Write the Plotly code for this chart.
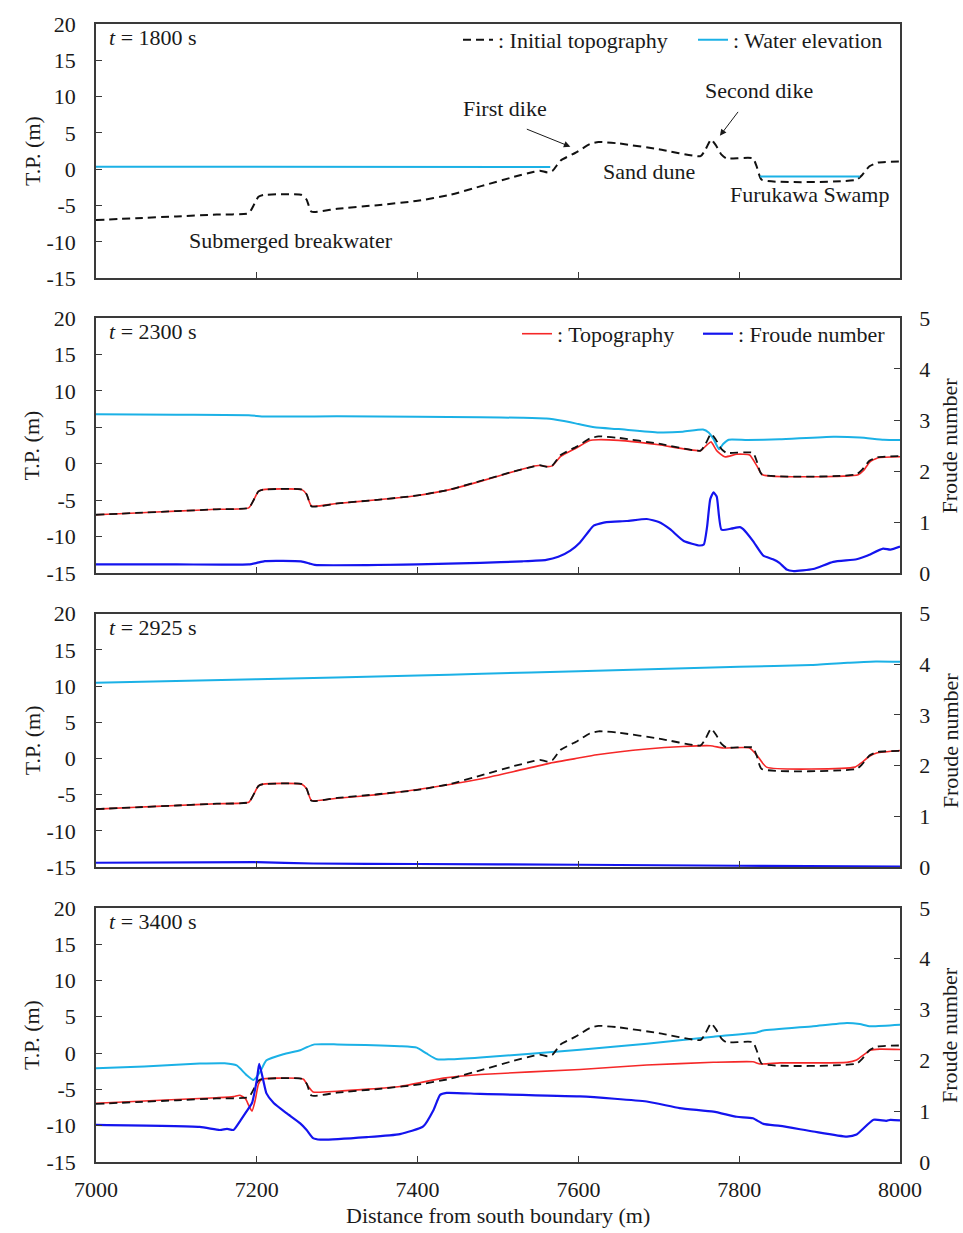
import plotly.graph_objects as go

# ---------------- data ----------------
x_init = [7000, 7050, 7100, 7150, 7190, 7196, 7202, 7208, 7256, 7262, 7268, 7300, 7350, 7400,
          7440, 7480, 7520, 7545, 7552, 7562, 7568, 7578, 7598, 7614, 7625, 7650, 7700, 7752,
          7758, 7765, 7771, 7778, 7784, 7817, 7822, 7828, 7946, 7953, 7962, 7972, 8000]
topo_init = [-7.0, -6.75, -6.5, -6.25, -6.05, -5.0, -3.8, -3.55, -3.55, -4.2, -5.85, -5.45, -4.95, -4.35,
             -3.55, -2.3, -1.05, -0.35, -0.2, -0.45, -0.2, 1.2, 2.35, 3.45, 3.75, 3.55, 2.75, 1.8,
             2.7, 4.1, 3.3, 2.0, 1.5, 1.5, 0.3, -1.45, -1.45, -0.8, 0.4, 0.9, 1.05]

# t = 1800 s : water elevation (sea side and Furukawa Swamp)
x_w1800 = [7000, 7200, 7400, 7565, None, 7826, 7950]
w1800 = [0.35, 0.32, 0.3, 0.3, None, -1.0, -1.0]

# t = 2300 s
x_w2300 = [7000, 7100, 7190, 7210, 7300, 7400, 7478, 7530, 7560, 7580, 7600, 7620, 7650, 7700,
           7730, 7755, 7762, 7768, 7775, 7780, 7787, 7810, 7850, 7917, 7950, 7980, 8000]
w2300 = [6.8, 6.72, 6.65, 6.48, 6.5, 6.45, 6.38, 6.3, 6.2, 5.9, 5.45, 5.0, 4.75, 4.3,
         4.4, 4.7, 4.3, 3.4, 2.0, 2.7, 3.3, 3.25, 3.35, 3.7, 3.6, 3.3, 3.25]
x_t2300 = [7000, 7050, 7100, 7150, 7190, 7196, 7202, 7208, 7256, 7262, 7268, 7300, 7350, 7400,
           7440, 7480, 7520, 7545, 7552, 7562, 7568, 7578, 7598, 7614, 7625, 7650, 7700, 7752,
           7760, 7765, 7772, 7782, 7797, 7813, 7822, 7829, 7948, 7955, 7962, 7972, 8000]
t2300 = [-7.0, -6.75, -6.5, -6.25, -6.05, -5.0, -3.8, -3.55, -3.55, -4.2, -5.8, -5.45, -4.95, -4.35,
         -3.55, -2.35, -1.05, -0.3, -0.25, -0.4, -0.25, 1.0, 2.2, 3.2, 3.3, 3.2, 2.6, 1.8,
         2.6, 3.0, 1.8, 0.95, 1.3, 1.2, -0.3, -1.5, -1.5, -0.9, 0.2, 0.8, 0.95]
x_f2300 = [7000, 7100, 7190, 7200, 7210, 7255, 7265, 7272, 7400, 7478, 7530, 7560, 7575, 7590,
           7602, 7612, 7619, 7635, 7660, 7685, 7700, 7714, 7731, 7751, 7756, 7760, 7764, 7768,
           7772, 7778, 7790, 7801, 7805, 7817, 7830, 7842, 7850, 7859, 7867, 7892, 7917, 7946,
           7959, 7979, 7988, 8000]
f2300 = [0.17, 0.17, 0.17, 0.2, 0.235, 0.23, 0.19, 0.16, 0.17, 0.2, 0.23, 0.26, 0.32, 0.44,
         0.6, 0.8, 0.93, 1.0, 1.02, 1.06, 1.0, 0.86, 0.63, 0.54, 0.56, 0.9, 1.45, 1.58,
         1.5, 0.85, 0.87, 0.9, 0.86, 0.63, 0.34, 0.27, 0.2, 0.07, 0.04, 0.08, 0.22, 0.27,
         0.34, 0.48, 0.46, 0.52]

# t = 2925 s
x_w2925 = [7000, 7200, 7400, 7480, 7600, 7800, 7890, 7935, 7970, 8000]
w2925 = [10.45, 10.95, 11.45, 11.7, 12.05, 12.65, 12.9, 13.2, 13.4, 13.35]
x_t2925 = [7000, 7050, 7100, 7150, 7190, 7196, 7202, 7208, 7256, 7262, 7268, 7300, 7350, 7400,
           7478, 7520, 7565, 7600, 7623, 7685, 7730, 7764, 7780, 7813, 7823, 7834, 7944, 7952,
           7962, 7971, 8000]
t2925 = [-7.0, -6.75, -6.5, -6.25, -6.05, -5.0, -3.8, -3.55, -3.55, -4.2, -5.8, -5.5, -5.0, -4.3,
         -2.85, -1.8, -0.65, 0.05, 0.5, 1.3, 1.65, 1.75, 1.45, 1.45, 0.3, -1.2, -1.2, -0.6,
         0.3, 0.75, 1.1]
x_f2925 = [7000, 7200, 7270, 7400, 7600, 7800, 8000]
f2925 = [0.085, 0.095, 0.07, 0.06, 0.045, 0.025, 0.01]

# t = 3400 s
x_w3400 = [7000, 7060, 7129, 7160, 7175, 7187, 7196, 7204, 7212, 7233, 7254, 7262, 7272, 7300,
           7378, 7399, 7411, 7424, 7440, 7478, 7602, 7685, 7768, 7822, 7830, 7892, 7934, 7950,
           7963, 8000]
w3400 = [-2.1, -1.85, -1.45, -1.4, -1.7, -3.0, -3.7, -2.6, -1.0, -0.15, 0.4, 0.8, 1.2, 1.2,
         0.95, 0.75, -0.05, -0.85, -0.85, -0.6, 0.45, 1.3, 2.25, 2.85, 3.1, 3.7, 4.15, 4.0,
         3.7, 3.9]
x_t3400 = [7000, 7080, 7150, 7171, 7179, 7186, 7190, 7194, 7198, 7202, 7206, 7225, 7258, 7264,
           7270, 7300, 7378, 7432, 7478, 7602, 7685, 7768, 7817, 7826, 7851, 7934, 7946, 7963,
           7975, 8000]
t3400 = [-6.9, -6.5, -6.15, -6.0, -5.8, -6.3, -7.2, -8.0, -6.5, -4.3, -3.6, -3.45, -3.6, -4.6,
         -5.35, -5.25, -4.6, -3.45, -2.95, -2.25, -1.65, -1.27, -1.2, -1.5, -1.35, -1.28, -0.95, 0.4,
         0.55, 0.5]
x_f3400 = [7000, 7129, 7154, 7163, 7171, 7179, 7187, 7194, 7200, 7203, 7208, 7212, 7221, 7237,
           7254, 7262, 7270, 7279, 7337, 7378, 7407, 7420, 7428, 7436, 7478, 7602, 7685, 7726,
           7768, 7797, 7817, 7830, 7851, 7892, 7934, 7946, 7967, 7983, 7988, 8000]
f3400 = [0.73, 0.69, 0.63, 0.65, 0.63, 0.8, 0.99, 1.16, 1.61, 1.93, 1.61, 1.35, 1.16, 0.96,
         0.76, 0.63, 0.47, 0.44, 0.49, 0.55, 0.70, 1.03, 1.32, 1.36, 1.34, 1.29, 1.19, 1.06,
         0.99, 0.89, 0.86, 0.75, 0.71, 0.60, 0.50, 0.54, 0.83, 0.81, 0.83, 0.82]

x_ticks = [7000, 7200, 7400, 7600, 7800, 8000]
y_ticks = [-15, -10, -5, 0, 5, 10, 15, 20]
fr_ticks = [0, 1, 2, 3, 4, 5]
time_labels = ["1800", "2300", "2925", "3400"]

# ---------------- style / layout ----------------
W, H = 963, 1233
ML, MR, MT, MB = 96, 63, 20, 71
PH = H - MT - MB
PW = W - ML - MR
FONT = "Liberation Serif, Times New Roman, serif"
FS = 22
TXT = "#1a1a1a"
AX = "#3a3a3a"
CYAN = "#1BB1E6"
RED = "#F52828"
BLUE = "#1414EE"
BLACK = "#111111"
DASH = "8px,5px"

panel_px = [(20, 275), (315, 571), (611.7, 866), (907, 1162)]


def dom(top, bot):
    return [(H - MB - bot) / PH, (H - MB - top) / PH]


fig = go.Figure()


def line(x, y, xa, ya, color, width, dash=None, name=None, legend=None, shape="spline",
         lw=None):
    fig.add_trace(go.Scatter(
        x=x, y=y, xaxis=xa, yaxis=ya, mode="lines", connectgaps=False,
        line=dict(color=color, width=width, dash=dash, shape=shape, smoothing=0.5),
        name=name, showlegend=name is not None, legend=legend, legendwidth=lw,
        hoverinfo="skip"))


# panel 1
line(x_init, topo_init, "x", "y", BLACK, 2, DASH, ": Initial topography", "legend", lw=190)
line(x_w1800, w1800, "x", "y", CYAN, 2, None, ": Water elevation", "legend", "linear")
# panel 2
line(x_w2300, w2300, "x2", "y2", CYAN, 2)
line(x_t2300, t2300, "x2", "y2", RED, 1.6, None, ": Topography", "legend2", lw=136)
line(x_init, topo_init, "x2", "y2", BLACK, 1.8, DASH)
line(x_f2300, f2300, "x2", "y5", BLUE, 2.2, None, ": Froude number", "legend2")
# panel 3
line(x_w2925, w2925, "x3", "y3", CYAN, 2)
line(x_t2925, t2925, "x3", "y3", RED, 1.6)
line(x_init, topo_init, "x3", "y3", BLACK, 1.8, DASH)
line(x_f2925, f2925, "x3", "y6", BLUE, 2.2)
# panel 4
line(x_w3400, w3400, "x4", "y4", CYAN, 2)
line(x_t3400, t3400, "x4", "y4", RED, 1.6)
line(x_init, topo_init, "x4", "y4", BLACK, 1.8, DASH)
line(x_f3400, f3400, "x4", "y7", BLUE, 2.2)

tickfont = dict(family=FONT, size=FS, color=TXT)
layout = dict(
    width=W, height=H, margin=dict(l=ML, r=MR, t=MT, b=MB),
    paper_bgcolor="white", plot_bgcolor="white",
    font=dict(family=FONT, size=FS, color=TXT),
)
for i, (top, bot) in enumerate(panel_px, start=1):
    s = "" if i == 1 else str(i)
    layout["xaxis" + s] = dict(
        domain=[0, 1], range=[7000, 8000], anchor="y" + s,
        tickvals=x_ticks, ticktext=[str(v) for v in x_ticks],
        ticks="inside", ticklen=6, tickcolor=AX,
        showticklabels=(i == 4), tickfont=tickfont, ticklabelstandoff=7,
        showline=True, mirror=True, linecolor=AX, linewidth=1.5,
        showgrid=False, zeroline=False)
    layout["yaxis" + s] = dict(
        domain=dom(top, bot), range=[-15, 20], anchor="x" + s,
        tickvals=y_ticks, ticktext=[str(v) for v in y_ticks],
        ticks="inside", ticklen=6, tickcolor=AX,
        tickfont=tickfont, ticklabelstandoff=14,
        showline=True, mirror=True, linecolor=AX, linewidth=1.5,
        showgrid=False, zeroline=False)
for j, i in zip([5, 6, 7], [2, 3, 4]):
    layout["yaxis%d" % j] = dict(
        overlaying="y%d" % i, anchor="x%d" % i, side="right", range=[0, 5],
        tickvals=fr_ticks, ticktext=[str(v) for v in fr_ticks],
        ticks="inside", ticklen=6, tickcolor=AX,
        tickfont=tickfont, ticklabelstandoff=13,
        showline=True, linecolor=AX, linewidth=1.5,
        showgrid=False, zeroline=False)

layout["legend"] = dict(
    orientation="h", x=(458 - ML) / PW, xanchor="left",
    y=(H - MB - 36) / PH, yanchor="middle",
    bgcolor="rgba(0,0,0,0)", font=dict(family=FONT, size=FS, color=TXT),
    itemwidth=30)
layout["legend2"] = dict(
    orientation="h", x=(517 - ML) / PW, xanchor="left",
    y=(H - MB - 331) / PH, yanchor="middle",
    bgcolor="rgba(0,0,0,0)", font=dict(family=FONT, size=FS, color=TXT),
    itemwidth=30)
fig.update_layout(**layout)

ann = []
txt_font = dict(family=FONT, size=FS, color=TXT)
for i, ((top, bot), tl) in enumerate(zip(panel_px, time_labels), start=1):
    s = "" if i == 1 else str(i)
    ann.append(dict(text="<i>t</i> = %s s" % tl, xref="x%s domain" % s, yref="y%s domain" % s,
                    x=11 / PW, y=1 - 14 / (bot - top), xanchor="left", yanchor="middle",
                    showarrow=False, font=txt_font))
    ann.append(dict(text="T.P. (m)", xref="paper", yref="paper", x=(32 - ML) / PW,
                    y=(H - MB - (top + bot) / 2) / PH, textangle=-90, showarrow=False,
                    xanchor="center", yanchor="middle", font=txt_font))
    if i > 1:
        ann.append(dict(text="Froude number", xref="paper", yref="paper", x=(950 - ML) / PW,
                        y=(H - MB - (top + bot) / 2) / PH, textangle=-90, showarrow=False,
                        xanchor="center", yanchor="middle", font=txt_font))

ann.append(dict(text="Distance from south boundary (m)", xref="paper", yref="paper",
                x=(498 - ML) / PW, y=(H - MB - 1216) / PH, xanchor="center", yanchor="middle",
                showarrow=False, font=txt_font))

# panel-1 feature labels
labels = [("First dike", 7509, 8.4), ("Second dike", 7825, 10.8), ("Sand dune", 7688, -0.3),
          ("Furukawa Swamp", 7887, -3.5), ("Submerged breakwater", 7242, -9.8)]
for t, xx, yy in labels:
    ann.append(dict(text=t, x=xx, y=yy, xref="x", yref="y", showarrow=False,
                    xanchor="center", yanchor="middle", font=txt_font))
# arrows
for (hx, hy, tx, ty) in [(7590, 3.1, 7534, 5.6), (7776, 4.6, 7800, 8.1)]:
    ann.append(dict(text="", x=hx, y=hy, ax=tx, ay=ty, xref="x", yref="y", axref="x", ayref="y",
                    showarrow=True, arrowhead=2, arrowsize=1.3, arrowwidth=1, arrowcolor=TXT))
fig.update_layout(annotations=ann)

fig.write_html("out.html")
